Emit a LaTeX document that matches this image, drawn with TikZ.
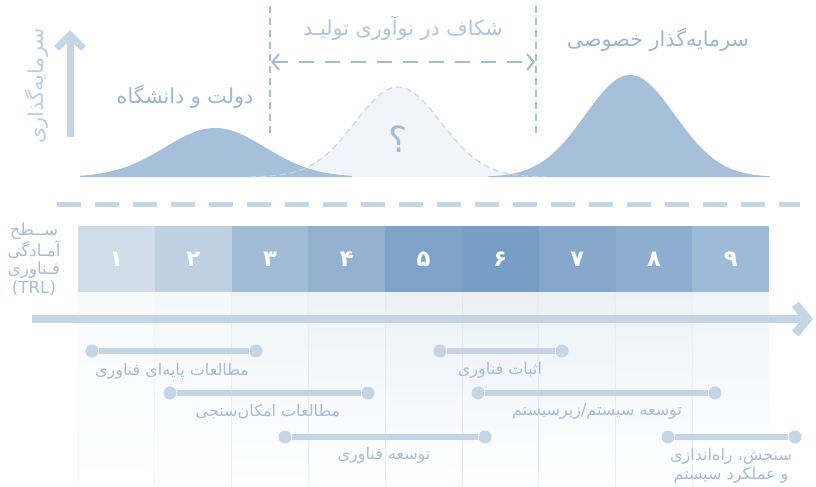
\documentclass[tikz,border=0pt]{standalone}
\usepackage{fontspec}
\setmainfont{DejaVu Sans}
\newfontfamily\fa[Script=Arabic]{DejaVu Sans}
\TeXXeTstate=1
\usetikzlibrary{arrows.meta}

\definecolor{axisblue}{HTML}{C4D5E6}
\definecolor{humpblue}{HTML}{A6C0DA}
\definecolor{gapblue}{HTML}{A4BCD7}
\definecolor{gapfill}{HTML}{F1F5FA}
\definecolor{gapedge}{HTML}{C9D6E4}
\definecolor{toptext}{HTML}{9CB7D4}
\definecolor{lowtext}{HTML}{A5BDD8}
\definecolor{trlA}{HTML}{D1DDE9}
\definecolor{trlB}{HTML}{BFD0E2}
\definecolor{trlC}{HTML}{A2BBD7}
\definecolor{trlD}{HTML}{94B1CF}
\definecolor{trlE}{HTML}{7FA3C8}
\definecolor{trlF}{HTML}{789EC5}
\definecolor{trlG}{HTML}{84A7CA}
\definecolor{trlH}{HTML}{8EAED0}
\definecolor{trlI}{HTML}{9DBAD7}

\tikzset{
  toplabel/.style={text=toptext, inner sep=0pt, font=\fa\fontsize{15.5}{18}\selectfont},
  lowlabel/.style={text=lowtext, inner sep=0pt, align=center, font=\fa\fontsize{12}{14.5}\selectfont},
  trlbox/.style={inner sep=0pt, minimum width=57.6pt, minimum height=49.5pt, text=white,
    font=\fa\bfseries\fontsize{17}{19}\selectfont},
  stagedot/.style={circle, fill=axisblue, inner sep=0pt, minimum size=9.75pt},
  stagebar/.style={draw=axisblue, line width=4.5pt},
  gapdash/.style={draw=gapblue, line width=1.1pt, dash pattern=on 5.25pt off 3.75pt},
}

\begin{document}
\begin{tikzpicture}[x=0.75pt, y=-0.75pt]
  \useasboundingbox (0,0) rectangle (816,486);

  % investment axis
  \coordinate (invlow) at (70,137);
  \coordinate (invtop) at (70,30);
  \draw[axisblue, line width=5.25pt, -{Straight Barb[length=10pt, width=20pt]}] (invlow) -- (invtop);
  \node[toplabel, text=axisblue!70!toptext, rotate=90] (inv) at (37,86) {\beginR سرمایه‌گذاری\endR};

  % the three humps
  \fill[gapfill] (250,177) -- plot[domain=250:545, samples=90] (\x,{177-90*exp(-0.5*((\x-398)/43)^2)}) -- (545,177) -- cycle;
  \fill[humpblue] (80,177) -- plot[domain=80:352, samples=90] (\x,{177-49*exp(-0.5*((\x-215)/50)^2)}) -- (352,177) -- cycle;
  \fill[humpblue] (488,177) -- plot[domain=488:770, samples=90] (\x,{177-102*exp(-0.5*((\x-630)/45)^2)}) -- (770,177) -- cycle;
  \draw[gapedge, line width=0.9pt, dash pattern=on 4.5pt off 3pt] plot[domain=250:545, samples=90] (\x,{177-90*exp(-0.5*((\x-398)/43)^2)});
  \node[text=gapblue!90!toptext, inner sep=0pt, font=\fa\fontsize{27}{30}\selectfont] (ask) at (398,139) {\beginR ؟\endR};

  % gap markers
  \coordinate (gapLtop) at (270,6);
  \coordinate (gapLbot) at (270,133);
  \coordinate (gapRtop) at (536,6);
  \coordinate (gapRbot) at (536,133);
  \draw[gapdash] (gapLtop) -- (gapLbot);
  \draw[gapdash] (gapRtop) -- (gapRbot);
  \coordinate (gapL) at (271,62);
  \coordinate (gapR) at (535,62);
  \draw[gapblue!85!toptext, line width=1.5pt, dash pattern=on 11pt off 8.5pt,
    {Straight Barb[length=5pt, width=12pt]}-{Straight Barb[length=5pt, width=12pt]}] (gapL) -- (gapR);

  \node[toplabel] (gov) at (185,97) {\beginR دولت و دانشگاه\endR};
  \node[toplabel, text=toptext!80!white] (gap) at (403,28) {\beginR شکاف در نوآوری تولیـد\endR};
  \node[toplabel] (priv) at (658,40) {\beginR سرمایه‌گذار خصوصی\endR};

  % separator
  \draw[axisblue, line width=3.75pt, dash pattern=on 18pt off 10.5pt] (57,204) -- (800,204);

  % TRL columns
  \foreach \i/\d/\c in {0/۱/trlA, 1/۲/trlB, 2/۳/trlC, 3/۴/trlD, 4/۵/trlE,
                        5/۶/trlF, 6/۷/trlG, 7/۸/trlH, 8/۹/trlI} {
    \shade[top color=\c!16!white, bottom color=white] (78+\i*76.8,292) rectangle ++(76.8,194);
    \draw[\c!22!white, line width=0.5pt] (78+\i*76.8,292) -- ++(0,194);
    \node[trlbox, fill=\c] (trl\i) at (116.4+\i*76.8,259) {\beginR\d\endR};
  }
  \node[text=lowtext, inner sep=0pt, align=center, font=\fa\fontsize{12.5}{14}\selectfont] (trlname) at (34,259)
    {\beginR ســطح\endR\\ \beginR آمـادگی\endR\\ \beginR فـناوری\endR\\ (TRL)};

  % time axis
  \coordinate (tstart) at (32,319);
  \coordinate (tend) at (813,319);
  \draw[axisblue, line width=6.5pt, -{Straight Barb[length=9pt, width=22pt]}] (tstart) -- (tend);

  % stages
  \node[stagedot] (s1a) at (92,351) {};
  \node[stagedot] (s1b) at (256,351) {};
  \node[stagedot] (s2a) at (170,393) {};
  \node[stagedot] (s2b) at (368,393) {};
  \node[stagedot] (s3a) at (285,437) {};
  \node[stagedot] (s3b) at (485,437) {};
  \node[stagedot] (s4a) at (440,351) {};
  \node[stagedot] (s4b) at (562,351) {};
  \node[stagedot] (s5a) at (478,393) {};
  \node[stagedot] (s5b) at (715,393) {};
  \node[stagedot] (s6a) at (668,437) {};
  \node[stagedot] (s6b) at (795,437) {};
  \foreach \s in {1,...,6} \draw[stagebar] (s\s a) -- (s\s b);

  \node[lowlabel] (st1) at (172,371) {\beginR مطالعات پایه‌ای فناوری\endR};
  \node[lowlabel] (st2) at (268,412) {\beginR مطالعات امکان‌سنجی\endR};
  \node[lowlabel] (st3) at (384,455) {\beginR توسعه فناوری\endR};
  \node[lowlabel] (st4) at (500,370) {\beginR اثبات فناوری\endR};
  \node[lowlabel] (st5) at (597,412) {\beginR توسعه سیستم/زیرسیستم\endR};
  \node[lowlabel] (st6) at (731,466) {\beginR سنجش، راه‌اندازی\endR\\ \beginR و عملکرد سیستم\endR};
\end{tikzpicture}
\end{document}
